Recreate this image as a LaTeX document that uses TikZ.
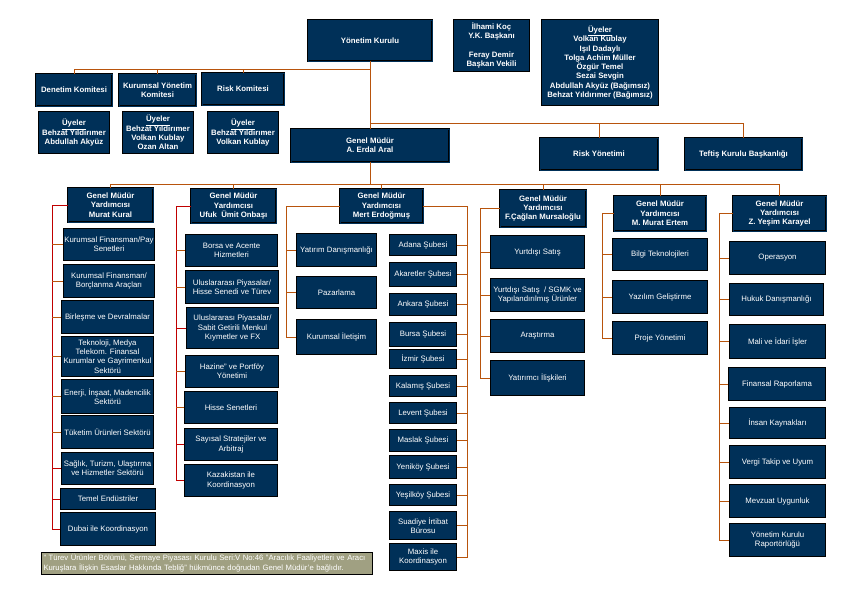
\documentclass[tikz,border=0pt]{standalone}
\usepackage{fontspec}
\setmainfont{Liberation Sans}
\definecolor{navy}{RGB}{0,48,88}
\definecolor{rust}{RGB}{184,84,12}
\definecolor{crimson}{RGB}{192,0,0}
\definecolor{olive}{RGB}{160,160,130}

\begin{document}
\begin{tikzpicture}[x=1pt,y=-1pt,
    sz/.style 2 args={minimum width=#1pt,minimum height=#2pt},
    head/.style={draw=black,line width=0.7pt,double=navy,double distance=1pt,fill=navy,text=white,align=center,inner sep=1pt,font=\bfseries\fontsize{7.8}{9.3}\selectfont},
    unit/.style={draw=black,line width=0.8pt,fill=navy,text=white,align=center,inner sep=1pt,font=\fontsize{7.8}{9.3}\selectfont},
    members/.style={unit,font=\bfseries\fontsize{7.8}{9.3}\selectfont},
    note/.style={draw=black,line width=0.8pt,fill=olive,text=white,align=left,text width=327pt,inner sep=2pt,font=\fontsize{7.7}{10}\selectfont},
    link/.style={rust,line width=0.8pt},
    redlink/.style={crimson,line width=0.8pt}]
      \useasboundingbox (0,0) rectangle (842,595);

      % board and committees
      \node[head,sz={124}{41}] (yk) at (370,40.5) {Yönetim Kurulu};
      \node[members,sz={76}{52}] (baskan) at (491.5,45.5) {İlhami Koç\\Y.K. Başkanı\\[9.3pt]Feray Demir\\Başkan Vekili};
      \node[members,sz={117}{86}] (uyeler) at (600,62.5) {\underline{Üyeler}\\Volkan Kublay\\Işıl Dadaylı\\Tolga Achim Müller\\Özgür Temel\\Sezai Sevgin\\Abdullah Akyüz (Bağımsız)\\Behzat Yıldırımer (Bağımsız)};
      \node[head,sz={76}{32}] (denetim) at (74,90) {Denetim Komitesi};
      \node[head,sz={77}{32}] (kyk) at (157.5,90) {Kurumsal Yönetim\\Komitesi};
      \node[head,sz={82}{32}] (riskk) at (243,89) {Risk Komitesi};
      \node[members,sz={71}{42}] (dm) at (74,132.5) {\underline{Üyeler}\\Behzat Yıldırımer\\Abdullah Akyüz};
      \node[members,sz={71}{42}] (km) at (158,132.5) {\underline{Üyeler}\\Behzat Yıldırımer\\Volkan Kublay\\Ozan Altan};
      \node[members,sz={71}{42}] (rm) at (243,132.5) {\underline{Üyeler}\\Behzat Yıldırımer\\Volkan Kublay};

      % general manager level
      \node[head,sz={158}{33}] (gm) at (370,145.5) {Genel Müdür\\A. Erdal Aral};
      \node[head,sz={118}{32}] (riskyon) at (599,154) {Risk Yönetimi};
      \node[head,sz={117}{32}] (teftis) at (743.5,154) {Teftiş Kurulu Başkanlığı};

      % assistant general managers
      \node[head,sz={85}{34}] (kural) at (110.5,205) {Genel Müdür\\Yardımcısı\\Murat Kural};
      \node[head,sz={85}{34}] (onbasi) at (233.5,206) {Genel Müdür\\Yardımcısı\\Ufuk~ Ümit Onbaşı};
      \node[head,sz={83}{34}] (mert) at (381.5,206) {Genel Müdür\\Yardımcısı\\Mert Erdoğmuş};
      \node[head,sz={86}{37}] (caglan) at (543,208.5) {Genel Müdür\\Yardımcısı\\F.Çağlan Mursaloğlu};
      \node[head,sz={92}{35}] (ertem) at (660,213.5) {Genel Müdür\\Yardımcısı\\M. Murat Ertem};
      \node[head,sz={93}{35}] (karayel) at (779.5,213.5) {Genel Müdür\\Yardımcısı\\Z. Yeşim Karayel};

      % Murat Kural
      \node[unit,sz={91}{32}] (k1) at (109,244.5) {Kurumsal Finansman/Pay\\Senetleri};
      \node[unit,sz={91}{33}] (k2) at (109,281) {Kurumsal Finansman/\\Borçlanma Araçları};
      \node[unit,sz={92}{33}] (k3) at (107.5,317) {Birleşme ve Devralmalar};
      \node[unit,sz={92}{40}] (k4) at (107.5,356.5) {Teknoloji, Medya\\Telekom. Finansal\\Kurumlar ve Gayrimenkul\\Sektörü};
      \node[unit,sz={92}{34}] (k5) at (107.5,396.5) {Enerji, İnşaat, Madencilik\\Sektörü};
      \node[unit,sz={92}{33}] (k6) at (107.5,432) {Tüketim Ürünleri Sektörü};
      \node[unit,sz={92}{32}] (k7) at (107.5,468.5) {Sağlık, Turizm, Ulaştırma\\ve Hizmetler Sektörü};
      \node[unit,sz={95}{21}] (k8) at (108,499) {Temel Endüstriler};
      \node[unit,sz={95}{33}] (k9) at (108,529) {Dubai ile Koordinasyon};

      % Ufuk Umit Onbasi
      \node[unit,sz={92}{32}] (o1) at (231.5,250.5) {Borsa ve Acente\\Hizmetleri};
      \node[unit,sz={93}{33}] (o2) at (232,287) {Uluslararası Piyasalar/\\Hisse Senedi ve Türev};
      \node[unit,sz={92}{41}] (o3) at (232.5,328) {Uluslararası Piyasalar/\\Sabit Getirili Menkul\\Kıymetler ve FX};
      \node[unit,sz={93}{32}] (o4) at (232,371.5) {Hazine" ve Portföy\\Yönetimi};
      \node[unit,sz={93}{32}] (o5) at (231,407.5) {Hisse Senetleri};
      \node[unit,sz={93}{32}] (o6) at (231,444.5) {Sayısal Stratejiler ve\\Arbitraj};
      \node[unit,sz={93}{32}] (o7) at (231,480.5) {Kazakistan ile\\Koordinasyon};

      % Mert Erdogmus
      \node[unit,sz={80}{33}] (ml1) at (336.5,250) {Yatırım Danışmanlığı};
      \node[unit,sz={80}{32}] (ml2) at (336.5,292.5) {Pazarlama};
      \node[unit,sz={80}{35}] (ml3) at (336.5,337) {Kurumsal İletişim};
      \node[unit,sz={67}{21}] (mr1) at (423,245) {Adana Şubesi};
      \node[unit,sz={67}{24}] (mr2) at (423,274.5) {Akaretler Şubesi};
      \node[unit,sz={67}{22}] (mr3) at (423,304.5) {Ankara Şubesi};
      \node[unit,sz={67}{24}] (mr4) at (423,334.5) {Bursa Şubesi};
      \node[unit,sz={67}{19}] (mr5) at (423,359) {İzmir Şubesi};
      \node[unit,sz={67}{21}] (mr6) at (423,386) {Kalamış Şubesi};
      \node[unit,sz={67}{21}] (mr7) at (423,413) {Levent Şubesi};
      \node[unit,sz={67}{22}] (mr8) at (423,440.5) {Maslak Şubesi};
      \node[unit,sz={67}{23}] (mr9) at (423,467) {Yeniköy Şubesi};
      \node[unit,sz={67}{21}] (mr10) at (423,495) {Yeşilköy Şubesi};
      \node[unit,sz={67}{28}] (mr11) at (423,525.5) {Suadiye İrtibat\\Bürosu};
      \node[unit,sz={67}{27}] (mr12) at (423,557) {Maxis ile\\Koordinasyon};

      % Caglan Mursaloglu
      \node[unit,sz={94}{33}] (c1) at (537.5,252) {Yurtdışı Satış};
      \node[unit,sz={94}{33}] (c2) at (537.5,295) {Yurtdışı Satış~ / SGMK ve\\Yapılandırılmış Ürünler};
      \node[unit,sz={94}{33}] (c3) at (537.5,336) {Araştırma};
      \node[unit,sz={94}{35}] (c4) at (537.5,378) {Yatırımcı İlişkileri};

      % Murat Ertem
      \node[unit,sz={95}{32}] (e1) at (660,254.5) {Bilgi Teknolojileri};
      \node[unit,sz={95}{33}] (e2) at (660,297) {Yazılım Geliştirme};
      \node[unit,sz={95}{33}] (e3) at (660,338) {Proje Yönetimi};

      % Yesim Karayel
      \node[unit,sz={96}{33}] (z1) at (777.5,258) {Operasyon};
      \node[unit,sz={94}{32}] (z2) at (776.5,299.5) {Hukuk Danışmanlığı};
      \node[unit,sz={96}{34}] (z3) at (777.5,341.5) {Mali ve İdari İşler};
      \node[unit,sz={97}{33}] (z4) at (777,384) {Finansal Raporlama};
      \node[unit,sz={96}{31}] (z5) at (777.5,423) {İnsan Kaynakları};
      \node[unit,sz={96}{33}] (z6) at (777.5,462) {Vergi Takip ve Uyum};
      \node[unit,sz={96}{33}] (z7) at (777.5,501) {Mevzuat Uygunluk};
      \node[unit,sz={96}{33}] (z8) at (777.5,540) {Yönetim Kurulu\\Raportörlüğü};

      \node[note] (fn) at (207,563.5) {" Türev Ürünler Bölümü, Sermaye Piyasası Kurulu Seri:V No:46 "Aracılık Faaliyetleri ve Aracı\\Kuruşlara İlişkin Esaslar Hakkında Tebliğ" hükmünce doğrudan Genel Müdür'e bağlıdır.};

      % buses and trunks
      \coordinate (kbus) at (0,69.3);
      \coordinate (rbus) at (0,123);
      \coordinate (gbus) at (0,184);
      \coordinate (kt) at (52,0);
      \coordinate (ot) at (176,0);
      \coordinate (mlt) at (286,0);
      \coordinate (mrt) at (467,0);
      \coordinate (ct) at (480,0);
      \coordinate (et) at (602,0);
      \coordinate (zt) at (719,0);

      \draw[link] (yk.south) -- (gm.north);
      \foreach \n in {denetim,kyk,riskk}
        \draw[link] (\n.north) |- (yk.south |- kbus);
      \foreach \n in {riskyon,teftis}
        \draw[link] (\n.north) |- (yk.south |- rbus);
      \draw[link] (gm.south) -- (gm.south |- gbus);
      \foreach \n in {kural,onbasi,mert,caglan,ertem,karayel}
        \draw[link] (\n.north) |- (gm.south |- gbus);

      \draw[redlink] (kural.west) -- (kural.west -| kt) -- (kt |- k9.west) -- (k9.west);
      \foreach \n in {k1,k2,k3,k4,k5,k6}
        \draw[link] (\n.west) -- (\n.west -| kt);
      \foreach \n in {k7,k8}
        \draw[redlink] (\n.west) -- (\n.west -| kt);

      \draw[redlink] (onbasi.west) -- (onbasi.west -| ot) -- (ot |- o7.west) -- (o7.west);
      \foreach \n in {o1,o2,o4,o5}
        \draw[link] (\n.west) -- (\n.west -| ot);
      \foreach \n in {o3,o6}
        \draw[redlink] (\n.west) -- (\n.west -| ot);

      \draw[link] (mert.west) -- (mert.west -| mlt) -- (mlt |- ml3.west) -- (ml3.west);
      \foreach \n in {ml1,ml2}
        \draw[link] (\n.west) -- (\n.west -| mlt);
      \draw[link] (mert.east) -- (mert.east -| mrt) -- (mrt |- mr12.east) -- (mr12.east);
      \foreach \n in {mr1,mr2,mr3,mr4,mr5,mr6,mr7,mr8,mr9,mr10,mr11}
        \draw[link] (\n.east) -- (\n.east -| mrt);

      \draw[link] (caglan.west) -- (caglan.west -| ct) -- (ct |- c4.west) -- (c4.west);
      \foreach \n in {c1,c2,c3}
        \draw[link] (\n.west) -- (\n.west -| ct);

      \draw[link] (ertem.west) -- (ertem.west -| et) -- (et |- e3.west) -- (e3.west);
      \foreach \n in {e1,e2}
        \draw[link] (\n.west) -- (\n.west -| et);

      \draw[link] (karayel.west) -- (karayel.west -| zt) -- (zt |- z8.west) -- (z8.west);
      \foreach \n in {z1,z2,z3,z4,z5,z6,z7}
        \draw[link] (\n.west) -- (\n.west -| zt);
\end{tikzpicture}
\end{document}
